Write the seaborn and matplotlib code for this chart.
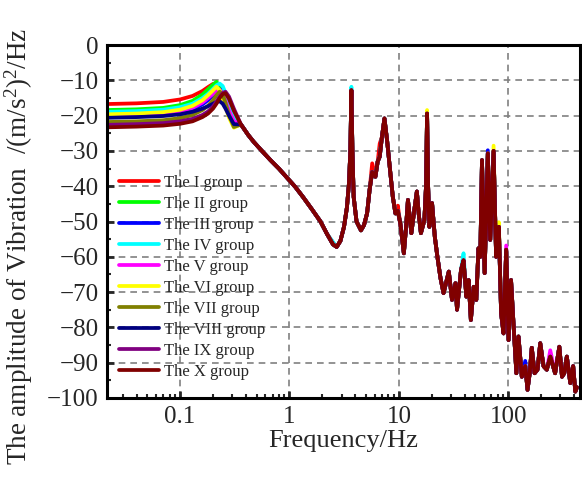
import numpy as np
import pandas as pd
import matplotlib
matplotlib.use("Agg")
import matplotlib.pyplot as plt
from matplotlib.ticker import LogLocator, MultipleLocator, FixedLocator, NullFormatter
import seaborn as sns

# ---------------------------------------------------------------------------
# Data
# ---------------------------------------------------------------------------

GROUPS = ["The I group", "The II group", "The III group", "The IV group",
          "The V group", "The VI group", "The VII group", "The VIII group",
          "The IX group", "The X group"]
COLORS = ["#FF0000", "#00FF00", "#0000FF", "#00FFFF", "#FF00FF",
          "#FFFF00", "#808000", "#000080", "#800080", "#800000"]

# low-frequency part: each group differs
LOW_FREQ = [0.0215, 0.04, 0.07, 0.1, 0.13, 0.16, 0.18, 0.2, 0.215, 0.23,
            0.245, 0.26, 0.28, 0.31]
LOW_AMP = {
    "The I group":    [-16.7, -16.5, -16.1, -15.4, -14.4, -13.0, -11.9, -11.0, -11.6, -13.2, -15.0, -16.6, -18.4, -20.4],
    "The II group":   [-18.4, -18.2, -17.8, -17.0, -15.8, -14.0, -12.5, -11.2, -10.4, -11.6, -13.6, -15.6, -18.0, -20.6],
    "The III group":  [-20.4, -20.2, -19.8, -19.2, -18.2, -16.8, -15.6, -14.2, -13.2, -12.6, -12.8, -14.4, -17.2, -20.4],
    "The IV group":   [-18.9, -18.7, -18.3, -17.6, -16.6, -15.0, -13.8, -12.4, -11.4, -10.9, -11.6, -13.6, -16.6, -20.0],
    "The V group":    [-20.1, -19.9, -19.5, -18.8, -17.8, -16.3, -15.0, -13.8, -13.0, -12.7, -13.8, -15.8, -18.6, -21.6],
    "The VI group":   [-19.6, -19.4, -19.0, -18.3, -17.2, -15.6, -14.2, -12.8, -11.8, -12.8, -15.2, -17.6, -20.6, -23.4],
    "The VII group":  [-21.8, -21.6, -21.3, -20.7, -19.8, -18.4, -17.2, -15.6, -14.2, -13.2, -14.0, -16.4, -19.8, -23.2],
    "The VIII group": [-20.6, -20.4, -20.1, -19.6, -18.9, -18.0, -17.3, -16.6, -16.1, -15.9, -16.6, -18.0, -20.0, -22.4],
    "The IX group":   [-22.6, -22.4, -22.1, -21.6, -20.9, -19.8, -18.8, -17.4, -16.0, -14.6, -13.6, -13.2, -14.6, -18.0],
    "The X group":    [-23.3, -23.1, -22.8, -22.3, -21.6, -20.4, -19.4, -18.0, -16.6, -15.0, -13.9, -13.6, -15.2, -18.6],
}

# higher-frequency part: the groups lie almost on top of each other
HIGH_FREQ = [0.36, 0.42, 0.47, 0.56, 0.67, 0.8, 0.95, 1.13, 1.34, 1.6, 1.92, 2.2,
             2.5, 2.7, 2.92, 3.15, 3.35, 3.5, 3.6, 3.68, 3.76, 3.86, 4.1, 4.5,
             4.8, 5.12, 5.4, 5.7, 6.1, 6.4, 6.68, 7.0, 7.38, 7.8, 8.36, 8.8,
             9.3, 9.77, 10.3, 11.1, 11.6, 12.1, 12.5, 13.0, 13.8, 14.6, 15.2, 15.9,
             17.1, 17.7, 18.1, 18.5, 19.0, 20.1, 21.3, 22.5, 24.0, 25.6, 28.6, 30.6,
             32.9, 34.0, 37.0, 39.0, 41.4, 43.4, 45.5, 48.3, 51.0, 53.4, 55.5, 57.5,
             60.8, 65.0, 68.4, 73.4, 77.4, 82.0, 86.0, 90.5, 95.7, 100.6, 106.0, 112.0,
             118.6, 124.0, 133.0, 143.0, 150.0, 157.0, 164.0, 174.0, 185.0, 196.0, 210.0, 225.0,
             242.0, 268.0, 293.0, 310.0, 325.0, 343.0, 369.0, 392.0, 410.0, 424.0]
HIGH_AMP = [-22.5, -25.5, -27.4, -30.0, -32.6, -35.0, -37.6, -40.2, -43.2, -46.5, -50.0, -53.5,
            -56.5, -57.2, -55.5, -51.5, -46.0, -39.0, -30.0, -12.8, -30.0, -43.0, -50.0, -52.5,
            -51.0, -47.7, -41.0, -36.0, -37.3, -33.0, -31.6, -26.0, -20.8, -27.0, -36.3, -43.0,
            -47.7, -47.0, -50.5, -59.0, -52.0, -43.9, -48.0, -53.3, -47.0, -41.5, -48.0, -53.3,
            -49.6, -40.0, -19.4, -40.0, -51.5, -44.8, -54.3, -60.0, -66.0, -70.3, -64.2, -72.2,
            -67.5, -75.0, -63.7, -61.0, -71.3, -66.6, -77.9, -68.5, -72.2, -57.6, -60.0, -32.6,
            -64.6, -30.7, -55.2, -30.0, -60.0, -51.5, -76.0, -81.7, -58.0, -83.6, -66.6, -79.8,
            -93.0, -82.6, -94.0, -91.0, -97.7, -93.0, -85.8, -93.0, -92.0, -84.5, -91.0, -92.0,
            -88.3, -93.0, -85.5, -94.0, -93.0, -88.3, -95.8, -91.0, -98.2, -97.0]

# peak tips where single groups stick out above the rest
TIP_AMP = {
    "The I group":   {5.7: -33.5, 6.68: -27.9, 9.77: -45.5, 2.5: -56.0},
    "The III group": {65.0: -29.8, 143.0: -89.5},
    "The IV group":  {3.68: -11.8, 39.0: -59.0, 2.5: -55.8},
    "The V group":   {95.7: -56.8, 242.0: -86.5},
    "The VI group":  {18.1: -18.4, 73.4: -28.5, 82.0: -50.2},
}

# ---------------------------------------------------------------------------
# Long-form table
# ---------------------------------------------------------------------------

frames = []
for g in GROUPS:
    amp = list(HIGH_AMP)
    for f, a in TIP_AMP.get(g, {}).items():
        amp[HIGH_FREQ.index(f)] = a
    frames.append(pd.DataFrame({"freq": LOW_FREQ + HIGH_FREQ,
                                "amp": LOW_AMP[g] + amp,
                                "group": g}))
df = pd.concat(frames, ignore_index=True)

# ---------------------------------------------------------------------------
# Figure
# ---------------------------------------------------------------------------

sns.set_style("ticks")
plt.rcParams["font.family"] = ["Liberation Serif", "DejaVu Serif"]
plt.rcParams["mathtext.fontset"] = "custom"
plt.rcParams["mathtext.rm"] = "Liberation Serif"
plt.rcParams["mathtext.default"] = "regular"

fig = plt.figure(figsize=(5.82, 4.8), dpi=100)
ax = fig.add_axes([0.184, 0.171, 0.813, 0.735])

sns.lineplot(data=df, x="freq", y="amp", hue="group", hue_order=GROUPS,
             palette=COLORS, estimator=None, sort=False, linewidth=2.7, ax=ax)
for ln in ax.get_lines():
    ln.set_solid_joinstyle("round")

ax.set_xscale("log")
ax.set_xlim(0.0215, 455)
ax.set_ylim(-100, 0)

ax.xaxis.set_major_locator(FixedLocator([0.1, 1, 10, 100]))
ax.set_xticklabels(["0.1", "1", "10", "100"])
ax.xaxis.set_minor_locator(LogLocator(base=10, subs=np.arange(2, 10), numticks=20))
ax.xaxis.set_minor_formatter(NullFormatter())
ax.yaxis.set_major_locator(MultipleLocator(10))
ax.yaxis.set_minor_locator(MultipleLocator(5))

ax.grid(True, which="major", color="#808080", linestyle=(0, (4, 3)), linewidth=1.2)
ax.tick_params(which="major", direction="in", length=5, width=2, labelsize=18, pad=6)
ax.tick_params(which="minor", direction="in", length=3, width=1.5)
for s in ax.spines.values():
    s.set_linewidth(2.2)
    s.set_color("black")
    s.set_visible(True)

ax.set_xlabel("Frequency/Hz", fontsize=19, labelpad=1)
ax.set_ylabel("The amplitude of Vibration  /(m/s$^2$)$^2$/Hz", fontsize=19.5)
ax.yaxis.set_label_coords(-0.152, 0.43)

ax.legend(loc="upper left", bbox_to_anchor=(0.012, 0.652), frameon=False,
          fontsize=12, handlelength=2.4, handletextpad=0.3, labelspacing=0.3,
          borderaxespad=0)

fig.savefig("out.png", dpi=100)
